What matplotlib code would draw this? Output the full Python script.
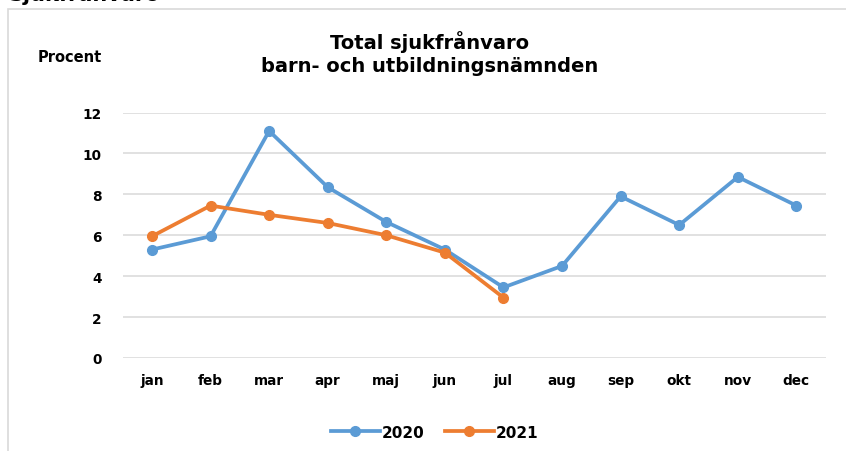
import matplotlib
matplotlib.use("Agg")
import matplotlib.pyplot as plt
from matplotlib.patches import Rectangle
from matplotlib.lines import Line2D

months = ["jan", "feb", "mar", "apr", "maj", "jun", "jul", "aug", "sep", "okt", "nov", "dec"]
v2020 = [5.3, 5.95, 11.1, 8.35, 6.65, 5.3, 3.45, 4.5, 7.9, 6.5, 8.85, 7.45]
v2021 = [5.95, 7.45, 7.0, 6.6, 6.0, 5.15, 2.95]
yticks = [0, 2, 4, 6, 8, 10, 12]

blue = '#5B9BD5'
orange = '#ED7D31'
plt.rcParams['font.family'] = ['DejaVu Sans']

fig = plt.figure(figsize=(8.46, 4.52), dpi=100)
fig.patch.set_facecolor('white')

# outer chart frame (right edge runs off the picture)
fig.patches.append(Rectangle((8 / 846, -0.01), 1.0, 1 - 10 / 452 + 0.01,
                             transform=fig.transFigure, fill=False,
                             edgecolor='#d9d9d9', linewidth=1.2))
# heading cut off at the top, as in the source screenshot
fig.text(8 / 846, 1 - 1 / 452, 'Sjukfrånvaro', fontsize=15, fontweight='bold',
         va='baseline', ha='left', color='black')

ax = fig.add_axes([0.145, 0.2058, 0.831, 0.543])
x = list(range(len(months)))
ax.plot(x, v2020, color=blue, linewidth=2.7, marker='o', markersize=7,
        label='2020', solid_capstyle='round', zorder=3)
ax.plot(x[:len(v2021)], v2021, color=orange, linewidth=2.7, marker='o',
        markersize=7, label='2021', solid_capstyle='round', zorder=4)

ax.set_xlim(-0.5, len(months) - 0.5)
ax.set_ylim(0, 12)
ax.set_yticks(yticks)
ax.set_xticks(x)
ax.set_xticklabels(months)
for s in ax.spines.values():
    s.set_visible(False)
ax.grid(axis='y', color='#d9d9d9', linewidth=1.1)
ax.set_axisbelow(True)
ax.tick_params(length=0, labelsize=9.8, colors='black')
ax.tick_params(axis='x', pad=11)
ax.tick_params(axis='y', pad=15)
for lab in ax.get_xticklabels() + ax.get_yticklabels():
    lab.set_fontweight('bold')

fig.text(0.508, 1 - 42 / 452, 'Total sjukfrånvaro', ha='center', va='center',
         fontsize=14, fontweight='bold')
fig.text(0.508, 1 - 67 / 452, 'barn- och utbildningsnämnden', ha='center', va='center',
         fontsize=14, fontweight='bold')
fig.text(38 / 846, 1 - 57 / 452, 'Procent', ha='left', va='center', fontsize=10.5,
         fontweight='bold')

handles = [Line2D([], [], color=blue, linewidth=2.7, marker='o', markersize=7),
           Line2D([], [], color=orange, linewidth=2.7, marker='o', markersize=7)]
leg = fig.legend(handles, ['2020', '2021'], loc='center', bbox_to_anchor=(0.514, 0.042),
                 ncol=2, frameon=False, handlelength=3.2, handletextpad=0.15,
                 columnspacing=1.3, prop={'weight': 'bold', 'size': 11})

fig.savefig('out.png', dpi=100, facecolor='white')
